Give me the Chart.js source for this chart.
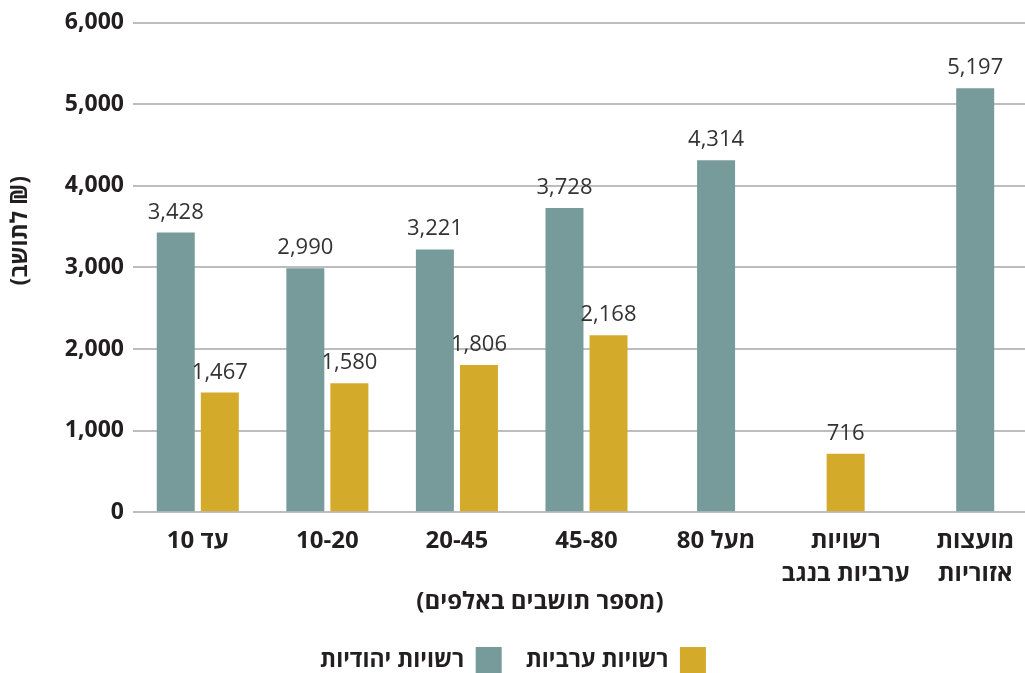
<!DOCTYPE html>
<html lang="he">
<head>
<meta charset="utf-8">
<script src="https://cdn.jsdelivr.net/npm/chart.js@4/dist/chart.umd.min.js"></script>
<style>
  html, body { margin: 0; padding: 0; background: #fff; overflow: hidden; }
  #wrap { width: 1040px; height: 673px; }
</style>
</head>
<body>
<div id="wrap"><canvas id="barChart"></canvas></div>
<script>
// categories (x axis, population in thousands)
const categories = [
  "עד 10",
  "10-20",
  "20-45",
  "45-80",
  "מעל 80",
  ["רשויות", "ערביות בנגב"],
  ["מועצות", "אזוריות"]
];
// NIS per resident
const jewishValues = [3428, 2990, 3221, 3728, 4314, null, 5197];
const arabValues = [1467, 1580, 1806, 2168, null, 716, null];
const yTicks = [0, 1000, 2000, 3000, 4000, 5000, 6000];

const seriesNames = ["רשויות יהודיות", "רשויות ערביות"];
const yTitle = "(₪ לתושב)";
const xTitle = "(מספר תושבים באלפים)";

const FONT = "'Open Sans', 'Noto Sans', 'DejaVu Sans', sans-serif";
const DARK = "#231f20";

// value labels above bars
const valueLabels = {
  id: "valueLabels",
  afterDatasetsDraw(chart) {
    const ctx = chart.ctx;
    ctx.save();
    ctx.font = "400 22px " + FONT;
    ctx.fillStyle = "#333";
    ctx.textAlign = "center";
    ctx.textBaseline = "alphabetic";
    chart.data.datasets.forEach((ds, i) => {
      chart.getDatasetMeta(i).data.forEach((bar, j) => {
        const v = ds.data[j];
        if (v == null) return;
        ctx.fillText(v.toLocaleString("en-US"), bar.x, bar.y - 14);
      });
    });
    ctx.restore();
  }
};

// rotated y title on the far left
const yTitlePlugin = {
  id: "yTitlePlugin",
  afterDraw(chart) {
    const ctx = chart.ctx;
    const a = chart.chartArea;
    ctx.save();
    ctx.translate(20, a.top + (a.bottom - a.top) * 0.425);
    ctx.rotate(-Math.PI / 2);
    ctx.font = "700 23px " + FONT;
    ctx.fillStyle = DARK;
    ctx.textAlign = "center";
    ctx.textBaseline = "middle";
    ctx.direction = "rtl";
    ctx.fillText(yTitle, 0, 0);
    ctx.restore();
  }
};

// nudge the legend row a bit to the left, like the original
const legendShift = {
  id: "legendShift",
  afterLayout(chart) {
    if (!chart.legend) return;
    chart.legend.left -= 27;
    chart.legend.right -= 27;
  }
};

new Chart(document.getElementById("barChart").getContext("2d"), {
  type: "bar",
  data: {
    labels: categories,
    datasets: [
      { label: seriesNames[0], data: jewishValues, backgroundColor: "#779b9b" },
      { label: seriesNames[1], data: arabValues, backgroundColor: "#d4aa2b" }
    ]
  },
  options: {
    responsive: true,
    maintainAspectRatio: false,
    animation: false,
    skipNull: true,
    categoryPercentage: 0.68,
    barPercentage: 0.864,
    maxBarThickness: 38,
    layout: { padding: { top: 16, left: 40, right: 0, bottom: -10 } },
    plugins: {
      tooltip: { enabled: false },
      // x axis title, centred on the page, sits between the axis and the legend
      title: {
        display: true,
        position: "bottom",
        weight: 500,
        text: xTitle,
        color: DARK,
        padding: { top: 0, bottom: 6 },
        font: { family: FONT, size: 24, weight: "700" }
      },
      legend: {
        position: "bottom",
        rtl: true,
        reverse: true,
        textDirection: "rtl",
        labels: {
          boxWidth: 26,
          boxHeight: 26,
          padding: 24,
          color: DARK,
          font: { family: FONT, size: 23, weight: "700" }
        }
      }
    },
    scales: {
      x: {
        afterFit(scale) { scale.height = 76; },
        grid: { display: false, drawTicks: false },
        border: { display: false },
        ticks: {
          color: DARK,
          padding: 13,
          maxRotation: 0,
          autoSkip: false,
          font: { family: FONT, size: 24, weight: "700", lineHeight: 1.35 }
        }
      },
      y: {
        min: 0,
        max: 6000,
        afterFit(scale) { scale.width = 93; },
        afterBuildTicks(scale) { scale.ticks = yTicks.map(v => ({ value: v })); },
        grid: { color: "#bdbdbd", lineWidth: 2, drawTicks: false },
        border: { display: false },
        ticks: {
          color: DARK,
          padding: 9,
          font: { family: FONT, size: 23, weight: "700" },
          callback: v => v.toLocaleString("en-US")
        }
      }
    }
  },
  plugins: [valueLabels, yTitlePlugin, legendShift]
});
</script>
</body>
</html>
